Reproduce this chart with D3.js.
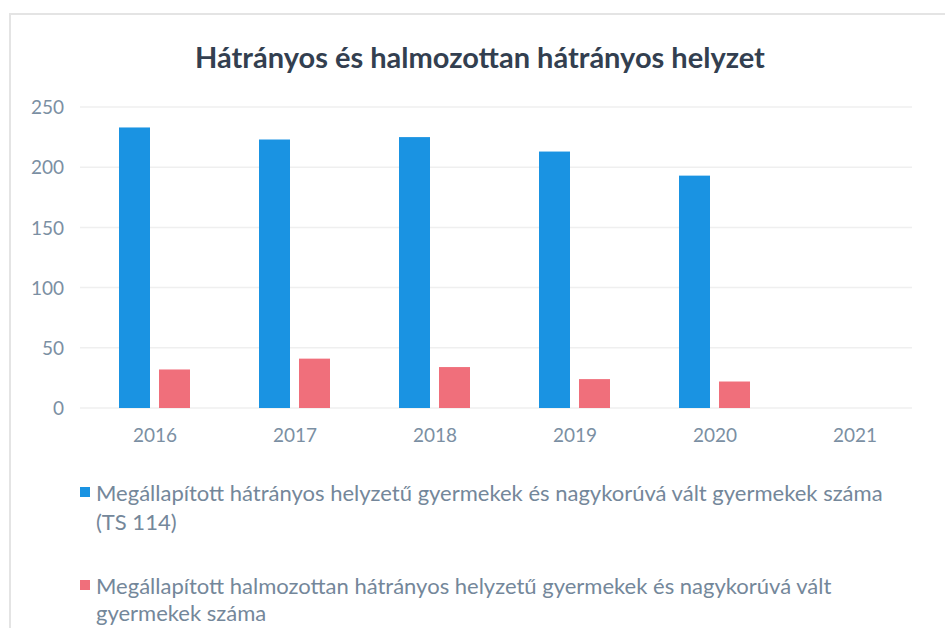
<!DOCTYPE html>
<html>
<head>
<meta charset="utf-8">
<script src="https://cdn.jsdelivr.net/npm/d3@7"></script>
<style>
  body { margin: 0; background: #fff; }
  svg text { font-family: Lato, "Open Sans", sans-serif; }
</style>
</head>
<body>
<svg id="chart" width="945" height="628"></svg>
<script>
var years = ["2016", "2017", "2018", "2019", "2020", "2021"];
var hatranyos = [233, 223, 225, 213, 193, null];
var halmozott = [32, 41, 34, 24, 22, null];
var yTicks = [0, 50, 100, 150, 200, 250];
var title = "Hátrányos és halmozottan hátrányos helyzet";
var legendLines = [
  ["Megállapított hátrányos helyzetű gyermekek és nagykorúvá vált gyermekek száma", "(TS 114)"],
  ["Megállapított halmozottan hátrányos helyzetű gyermekek és nagykorúvá vált", "gyermekek száma"]
];
var colors = ["#1a93e2", "#f06f7b"];

var svg = d3.select("#chart");

// faint frame
svg.append("rect")
  .attr("x", 10).attr("y", 14).attr("width", 940).attr("height", 640)
  .attr("fill", "none").attr("stroke", "#e4e4e4").attr("stroke-width", 2);

var x = d3.scaleBand().domain(years).range([85, 925]);
var y = d3.scaleLinear().domain([0, 250]).range([408, 107]);

// gridlines
svg.append("g").selectAll("line")
  .data(yTicks).enter().append("line")
  .attr("x1", 80).attr("x2", 912)
  .attr("y1", function(d){ return y(d); })
  .attr("y2", function(d){ return y(d); })
  .attr("stroke", "#efefef").attr("stroke-width", 1.5);

// y axis labels
var yAxis = d3.axisLeft(y).tickValues(yTicks).tickSize(0).tickPadding(0);
svg.append("g")
  .attr("transform", "translate(64,0)")
  .call(yAxis)
  .call(function(g){ g.select(".domain").remove(); })
  .selectAll("text")
  .attr("fill", "#7b8fa3").attr("font-size", 19).attr("dy", "0.35em");

// x axis labels
var xAxis = d3.axisBottom(x).tickSize(0).tickPadding(0);
svg.append("g")
  .attr("transform", "translate(0,428)")
  .call(xAxis)
  .call(function(g){ g.select(".domain").remove(); })
  .selectAll("text")
  .attr("fill", "#7b8fa3").attr("font-size", 19).attr("dy", "0.75em");

// bars
var barW = 31, gap = 9;
var series = [hatranyos, halmozott];
series.forEach(function(vals, s){
  svg.append("g").selectAll("rect")
    .data(years.map(function(yr, i){ return {year: yr, v: vals[i]}; })
      .filter(function(d){ return d.v != null; }))
    .enter().append("rect")
    .attr("x", function(d){
      return x(d.year) + x.bandwidth() / 2 - (barW + gap / 2) + s * (barW + gap) - 0.5;
    })
    .attr("width", barW)
    .attr("y", function(d){ return y(d.v); })
    .attr("height", function(d){ return y(0) - y(d.v); })
    .attr("fill", colors[s]);
});

// title
svg.append("text")
  .attr("x", 480).attr("y", 68)
  .attr("text-anchor", "middle")
  .attr("font-size", 29).attr("font-weight", "bold")
  .attr("fill", "#333f50")
  .text(title);

// legend
var legendY = [501, 594];
var lineGap = [29, 27];
legendLines.forEach(function(lines, i){
  var g = svg.append("g").attr("transform", "translate(80," + legendY[i] + ")");
  g.append("rect").attr("x", 0).attr("y", -14).attr("width", 10).attr("height", 10)
    .attr("fill", colors[i]);
  lines.forEach(function(t, j){
    g.append("text")
      .attr("x", 16).attr("y", j * lineGap[i])
      .attr("font-size", 22).attr("fill", "#74879a")
      .text(t);
  });
});
</script>
</body>
</html>
